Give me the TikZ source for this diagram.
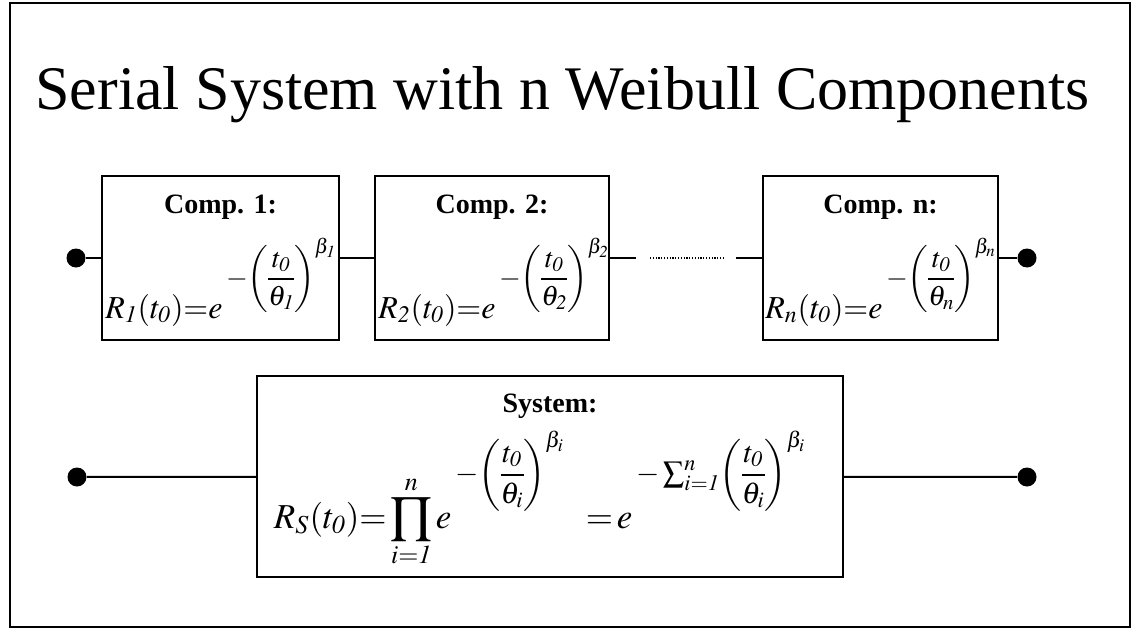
\documentclass[tikz,border=0pt]{standalone}
\usepackage{amsmath}
\usepackage{mathptmx}
\usepackage[no-math]{fontspec}
\setmainfont{Liberation Serif}
\usepackage{tikz}
\usetikzlibrary{positioning,calc}

\tikzset{
  compbox/.style={draw,line width=1pt,inner sep=0pt},
  complabel/.style={anchor=base,inner sep=0pt,font=\fontsize{14}{16}\selectfont\bfseries},
  compform/.style={anchor=base,inner sep=0pt,font=\fontsize{16}{19}\selectfont},
  sysform/.style={anchor=base,inner sep=0pt,font=\fontsize{17.5}{21}\selectfont},
  terminal/.style={circle,fill,inner sep=0pt,minimum size=9.5pt},
  wire/.style={line width=1pt},
  dotwire/.style={line width=0.6pt,dash pattern=on 0.6pt off 0.8pt}
}

\begin{document}
\begin{tikzpicture}[x=0.5pt,y=-0.5pt]
\useasboundingbox (0,0) rectangle (1133,631);
\draw[line width=1.2pt] (10,3) rectangle (1130,627);

\node[anchor=base west,inner sep=0pt,font=\fontsize{31}{36}\selectfont] (title) at (35,110) {Serial System with n Weibull Components};

\node[compbox,minimum width=118.5pt,minimum height=82pt] (comp1) at (220.5,258) {};
\node[compbox,minimum width=117pt,minimum height=82pt] (comp2) at (492,258) {};
\node[compbox,minimum width=117.5pt,minimum height=82pt] (compn) at (880.5,258) {};
\node[compbox,minimum width=293pt,minimum height=100.5pt] (sys) at (550,476.5) {};

\node[complabel] (lab1) at (220.5,213) {Comp. 1:};
\node[complabel] (lab2) at (492,213) {Comp. 2:};
\node[complabel] (labn) at (880.5,213) {Comp. n:};
\node[complabel] (labs) at (550,412) {System:};

\node[compform] (form1) at (221,318) {$R_{\mathit{1}}(t_{\mathit{0}}){=}e\,\raisebox{1em}{\fontsize{14}{17}\selectfont\nulldelimiterspace=0pt${-}\!\left(\dfrac{t_{\mathit{0}}}{\theta_{\mathit{1}}}\right)^{\beta_{\mathit{1}}}$}$};
\node[compform] (form2) at (494,318) {$R_{\mathit{2}}(t_{\mathit{0}}){=}e\,\raisebox{1em}{\fontsize{14}{17}\selectfont\nulldelimiterspace=0pt${-}\!\left(\dfrac{t_{\mathit{0}}}{\theta_{\mathit{2}}}\right)^{\beta_{\mathit{2}}}$}$};
\node[compform] (formn) at (881,318) {$R_{n}(t_{\mathit{0}}){=}e\,\raisebox{1em}{\fontsize{14}{17}\selectfont\nulldelimiterspace=0pt${-}\!\left(\dfrac{t_{\mathit{0}}}{\theta_{n}}\right)^{\beta_{n}}$}$};
\node[sysform] (forms) at (540,528) {$R_{S}(t_{\mathit{0}}){=}\displaystyle\prod_{i=\mathit{1}}^{n}e\,\raisebox{1.3em}{\fontsize{15}{18}\selectfont\nulldelimiterspace=0pt${-}\!\left(\dfrac{t_{\mathit{0}}}{\theta_{i}}\right)^{\beta_{i}}$}\hspace{0.6em}{=}\,e\,\raisebox{1.3em}{\fontsize{15}{18}\selectfont\nulldelimiterspace=0pt$-\sum_{i=\mathit{1}}^{n}\!\left(\dfrac{t_{\mathit{0}}}{\theta_{i}}\right)^{\beta_{i}}$}$};

\node[terminal] (inA) at (76,258) {};
\node[terminal] (outA) at (1027,258) {};
\node[terminal] (inS) at (77,477) {};
\node[terminal] (outS) at (1027,477) {};
\coordinate (gapA) at (636,258);
\coordinate (gapB) at (650,258);
\coordinate (gapC) at (723,258);
\coordinate (gapD) at (736,258);

\draw[wire] (inA) -- (comp1);
\draw[wire] (comp1) -- (comp2);
\draw[wire] (comp2) -- (gapA);
\draw[dotwire] (gapB) -- (gapC);
\draw[wire] (gapD) -- (compn);
\draw[wire] (compn) -- (outA);
\draw[wire] (inS) -- (sys);
\draw[wire] (sys) -- (outS);
\end{tikzpicture}
\end{document}
